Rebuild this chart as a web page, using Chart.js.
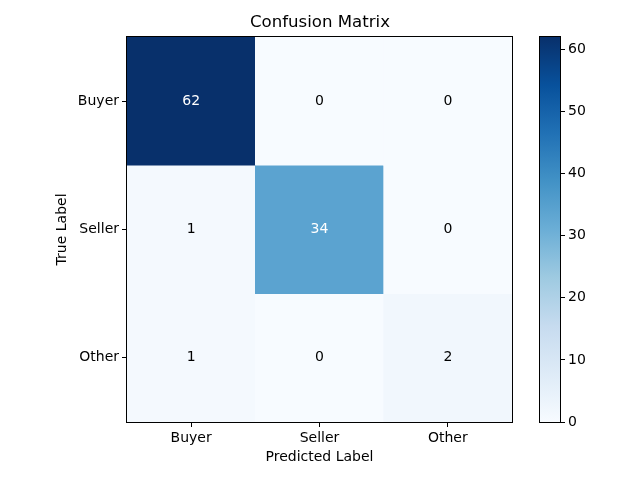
<!DOCTYPE html>
<html>
<head>
<meta charset="utf-8">
<script src="https://cdn.jsdelivr.net/npm/chart.js@4/dist/chart.umd.min.js"></script>
<style>
  html, body { margin: 0; padding: 0; background: #fff; }
  .box { position: absolute; left: 0; top: 0; width: 640px; height: 480px; }
</style>
</head>
<body>
<div class="box"><canvas id="matrixChart"></canvas></div>
<div class="box"><canvas id="colorBar"></canvas></div>
<script>
const predictedLabels = ["Buyer", "Seller", "Other"];
const trueLabels = ["Buyer", "Seller", "Other"];

// rows = true label, columns = predicted label
const buyerRow = [62, 0, 0];
const sellerRow = [1, 34, 0];
const otherRow = [1, 0, 2];
const rows = [buyerRow, sellerRow, otherRow];

const colorTicks = [0, 10, 20, 30, 40, 50, 60];
const vmin = 0;
const vmax = 62;

// matplotlib "Blues"
const blues = ["#f7fbff", "#deebf7", "#c6dbef", "#9ecae1", "#6baed6", "#4292c6", "#2171b5", "#08519c", "#08306b"];

function hexToRgb(h) {
  return [parseInt(h.slice(1, 3), 16), parseInt(h.slice(3, 5), 16), parseInt(h.slice(5, 7), 16)];
}

function bluesColor(t) {
  t = Math.max(0, Math.min(1, t));
  const pos = t * (blues.length - 1);
  const i = Math.min(Math.floor(pos), blues.length - 2);
  const f = pos - i;
  const a = hexToRgb(blues[i]);
  const b = hexToRgb(blues[i + 1]);
  const c = a.map((v, k) => Math.round(v + (b[k] - v) * f));
  return `rgb(${c[0]}, ${c[1]}, ${c[2]})`;
}

Chart.defaults.font.family = "'DejaVu Sans', sans-serif";
Chart.defaults.font.size = 14;
Chart.defaults.color = "#000";
Chart.defaults.animation = false;

const frame = {
  id: "frame",
  afterDatasetsDraw(chart) {
    const a = chart.chartArea;
    const c = chart.ctx;
    c.save();
    c.strokeStyle = "#000";
    c.lineWidth = 1;
    c.strokeRect(Math.round(a.left) - 0.5, Math.round(a.top) - 0.5,
      Math.round(a.right - a.left) + 1, Math.round(a.bottom - a.top) + 1);
    c.restore();
  }
};

const cellText = {
  id: "cellText",
  afterDatasetsDraw(chart) {
    const c = chart.ctx;
    const xs = chart.scales.x;
    const ys = chart.scales.y;
    c.save();
    c.font = "14px 'DejaVu Sans', sans-serif";
    c.textAlign = "center";
    c.textBaseline = "middle";
    rows.forEach((row, r) => {
      row.forEach((v, col) => {
        c.fillStyle = v > vmax / 2 ? "#fff" : "#000";
        c.fillText(String(v), xs.getPixelForValue(col), ys.getPixelForValue(r));
      });
    });
    c.restore();
  }
};

const datasets = rows.map((row, r) => ({
  label: trueLabels[r],
  data: row.map(() => [r - 0.5, r + 0.5]),
  backgroundColor: row.map(v => bluesColor((v - vmin) / (vmax - vmin))),
  borderWidth: 0,
  barPercentage: 1,
  categoryPercentage: 1,
  grouped: false,
}));

new Chart(document.getElementById("matrixChart"), {
  type: "bar",
  data: { labels: predictedLabels, datasets: datasets },
  options: {
    responsive: true,
    maintainAspectRatio: false,
    layout: { padding: 0 },
    plugins: {
      legend: { display: false },
      tooltip: { enabled: false },
      title: {
        display: true,
        text: "Confusion Matrix",
        font: { size: 16.6, weight: "normal" },
        color: "#000",
        padding: { top: 13, bottom: 4 },
      },
    },
    scales: {
      x: {
        afterFit: (scale) => { scale.height = 58; },
        grid: { offset: false, drawOnChartArea: false, drawTicks: true, tickLength: 5, color: "#000" },
        border: { display: false },
        ticks: { color: "#000", padding: 3 },
        title: { display: true, text: "Predicted Label", color: "#000", padding: { top: 2, bottom: 14.6 } },
      },
      y: {
        type: "linear",
        reverse: true,
        min: -0.5,
        max: 2.5,
        afterFit: (scale) => { scale.width = 127; },
        afterBuildTicks: (scale) => {
          scale.ticks = trueLabels.map((_, i) => ({ value: i }));
        },
        grid: { drawOnChartArea: false, drawTicks: true, tickLength: 5, color: "#000" },
        border: { display: false },
        ticks: { color: "#000", padding: 3, callback: (v) => trueLabels[v] },
        title: { display: true, text: "True Label", color: "#000", padding: { top: 53.6, bottom: 4 } },
      },
      // empty right axis that reserves the space taken by the colour bar
      side: {
        type: "linear",
        position: "right",
        display: true,
        afterFit: (scale) => { scale.width = 128; },
        grid: { display: false },
        border: { display: false },
        ticks: { display: false },
      },
    },
  },
  plugins: [cellText, frame],
});

new Chart(document.getElementById("colorBar"), {
  type: "bar",
  data: {
    labels: [""],
    datasets: [{
      data: [[vmin, vmax]],
      borderWidth: 0,
      barPercentage: 1,
      categoryPercentage: 1,
      backgroundColor: (ctx) => {
        const a = ctx.chart.chartArea;
        if (!a) return blues[4];
        const g = ctx.chart.ctx.createLinearGradient(0, a.bottom, 0, a.top);
        blues.forEach((col, i) => g.addColorStop(i / (blues.length - 1), col));
        return g;
      },
    }],
  },
  options: {
    responsive: true,
    maintainAspectRatio: false,
    layout: { padding: { left: 540, right: 20, top: 37, bottom: 58 } },
    plugins: { legend: { display: false }, tooltip: { enabled: false } },
    scales: {
      x: { display: false },
      y: {
        position: "right",
        min: vmin,
        max: vmax,
        afterFit: (scale) => { scale.width = 60; },
        afterBuildTicks: (scale) => {
          scale.ticks = colorTicks.map(v => ({ value: v }));
        },
        grid: { drawOnChartArea: false, drawTicks: true, tickLength: 5, color: "#000" },
        border: { display: false },
        ticks: { color: "#000", padding: 3 },
      },
    },
  },
  plugins: [frame],
});
</script>
</body>
</html>
